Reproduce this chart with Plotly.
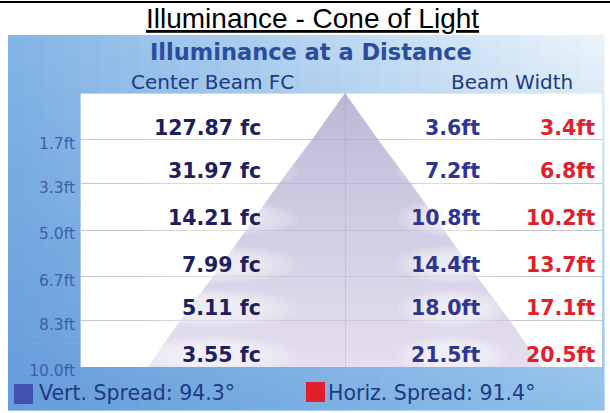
import numpy as np
import plotly.graph_objects as go

# ---------------- data ----------------
distances = [1.7, 3.3, 5.0, 6.7, 8.3, 10.0]
distance_labels = ["1.7ft", "3.3ft", "5.0ft", "6.7ft", "8.3ft", "10.0ft"]
center_beam_fc = [127.87, 31.97, 14.21, 7.99, 5.11, 3.55]
vert_width_ft = [3.6, 7.2, 10.8, 14.4, 18.0, 21.5]
horiz_width_ft = [3.4, 6.8, 10.2, 13.7, 17.1, 20.5]
vert_spread_deg = 94.3
horiz_spread_deg = 91.4

# ---------------- geometry ----------------
W, H = 610, 413
L, R, T, B = 80, 8, 93, 46
PW, PH = W - L - R, H - T - B
XR = [-265 / 18.33, 257 / 18.33]
PX_PER_FT_X = PW / (XR[1] - XR[0])
PX_PER_FT_Y = PH / 10.0


def px(x):
    return (x - L) / PW


def py(y):
    return (H - B - y) / PH


# ---------------- background panel (gradient cells) ----------------
TL = np.array([130, 180, 230])
TR = np.array([236, 244, 251])
BL = np.array([100, 155, 217])
BR = np.array([143, 192, 234])
X0, X1, Y0, Y1 = 8, 604, 35, 410


def bg_color(x, y):
    u = (x - X0) / (X1 - X0)
    v = (y - Y0) / (Y1 - Y0)
    c = (1 - u) * (1 - v) * TL + u * (1 - v) * TR + (1 - u) * v * BL + u * v * BR
    return "rgb(%d,%d,%d)" % tuple(int(round(t)) for t in c)


xedges = list(np.linspace(X0, L, 5)) + list(np.linspace(L, W - R, 27)[1:]) + [X1]
yedges = list(np.linspace(Y0, T, 11)) + list(np.linspace(T, H - B, 47)[1:]) + list(np.linspace(H - B, Y1, 8)[1:])

shapes = []
for i in range(len(xedges) - 1):
    for j in range(len(yedges) - 1):
        xa, xb = xedges[i], xedges[i + 1]
        ya, yb = yedges[j], yedges[j + 1]
        if xa >= L - 0.01 and xb <= W - R + 0.01 and ya >= T - 0.01 and yb <= H - B + 0.01:
            continue
        shapes.append(dict(type="rect", xref="paper", yref="paper", layer="below",
                           x0=px(xa), x1=px(xb + 0.6), y0=py(yb + 0.6), y1=py(ya),
                           fillcolor=bg_color((xa + xb) / 2, (ya + yb) / 2),
                           line=dict(width=0)))

# top frame line
shapes.append(dict(type="line", xref="paper", yref="paper", layer="above",
                   x0=px(0), x1=px(W), y0=py(2), y1=py(2), line=dict(color="black", width=2)))
# legend swatches
shapes.append(dict(type="rect", xref="paper", yref="paper", layer="above",
                   x0=px(14), x1=px(33), y0=py(404), y1=py(384),
                   fillcolor="#4250b0", line=dict(width=0)))
shapes.append(dict(type="rect", xref="paper", yref="paper", layer="above",
                   x0=px(306), x1=px(325), y0=py(402), y1=py(382),
                   fillcolor="#e3202a", line=dict(width=0)))

fig = go.Figure()

# ---------------- cone of light ----------------
cone_x = [0] + [-w / 2 for w in vert_width_ft] + [w / 2 for w in vert_width_ft[::-1]] + [0]
cone_y = [0] + distances + distances[::-1] + [0]
fig.add_trace(go.Scatter(
    x=cone_x, y=cone_y, mode="lines", fill="toself",
    line=dict(width=0, color="rgba(0,0,0,0)"),
    fillgradient=dict(type="vertical", start=0, stop=10,
                      colorscale=[[0, "rgba(168,164,202,0.78)"],
                                  [1, "rgba(212,203,228,0.62)"]]),
    hoverinfo="skip", showlegend=False))

# ---------------- value texts ----------------
FC_RIGHT, VW_RIGHT, HW_RIGHT = -4.47, 7.47, 13.75
TEXT_SHIFT = 12


def glow(cx_ft, cy, rx_px, ry_px):
    # soft white halo behind a value label (layered translucent ellipses)
    for k in (1.0, 0.9, 0.8, 0.7, 0.6, 0.5):
        rx = rx_px * k / PX_PER_FT_X
        ry = ry_px * k / PX_PER_FT_Y
        shapes.append(dict(type="circle", xref="x", yref="y", layer="above",
                           x0=cx_ft - rx, x1=cx_ft + rx, y0=cy - ry, y1=cy + ry,
                           fillcolor="white", opacity=0.13, line=dict(width=0)))


VAL = dict(family="DejaVu Sans", size=20.5, weight="bold")
annotations = []
for d, fc, vw, hw in zip(distances, center_beam_fc, vert_width_ft, horiz_width_ft):
    cy = d - TEXT_SHIFT / PX_PER_FT_Y
    glow(FC_RIGHT - 50 / PX_PER_FT_X, cy, 85, 19)
    glow(VW_RIGHT - 30 / PX_PER_FT_X, cy, 55, 19)
    annotations.append(dict(x=FC_RIGHT, y=d, xref="x", yref="y", xanchor="right", yanchor="middle",
                            yshift=TEXT_SHIFT, showarrow=False, text=f"{fc:.2f} fc",
                            font=dict(VAL, color="#1c205e")))
    annotations.append(dict(x=VW_RIGHT, y=d, xref="x", yref="y", xanchor="right", yanchor="middle",
                            yshift=TEXT_SHIFT, showarrow=False, text=f"{vw:.1f}ft",
                            font=dict(VAL, color="#2e3592")))
    annotations.append(dict(x=HW_RIGHT, y=d, xref="x", yref="y", xanchor="right", yanchor="middle",
                            yshift=TEXT_SHIFT, showarrow=False, text=f"{hw:.1f}ft",
                            font=dict(VAL, color="#e2202b")))

# titles and headers
annotations.append(dict(x=px(312), y=py(18), xref="paper", yref="paper", showarrow=False,
                        xanchor="center", yanchor="middle", text="<u>Illuminance - Cone of Light</u>",
                        font=dict(family="Liberation Sans", size=28, color="black")))
annotations.append(dict(x=px(311), y=py(52), xref="paper", yref="paper", showarrow=False,
                        xanchor="center", yanchor="middle", text="Illuminance at a Distance",
                        font=dict(family="DejaVu Sans", size=22.5, color="#2a4d9c", weight="bold")))
annotations.append(dict(x=px(212), y=py(82), xref="paper", yref="paper", showarrow=False,
                        xanchor="center", yanchor="middle", text="Center Beam FC",
                        font=dict(family="DejaVu Sans", size=20, color="#1f3a80")))
annotations.append(dict(x=px(512), y=py(82), xref="paper", yref="paper", showarrow=False,
                        xanchor="center", yanchor="middle", text="Beam Width",
                        font=dict(family="DejaVu Sans", size=20, color="#1f3a80")))
# legend texts
annotations.append(dict(x=px(37), y=py(393), xref="paper", yref="paper", showarrow=False,
                        xanchor="left", yanchor="middle", text=f"Vert. Spread: {vert_spread_deg:.1f}°",
                        font=dict(family="DejaVu Sans", size=20.5, color="#1f3a80")))
annotations.append(dict(x=px(326), y=py(393), xref="paper", yref="paper", showarrow=False,
                        xanchor="left", yanchor="middle", text=f"Horiz. Spread: {horiz_spread_deg:.1f}°",
                        font=dict(family="DejaVu Sans", size=20.5, color="#1f3a80")))

fig.update_layout(
    width=W, height=H,
    margin=dict(l=L, r=R, t=T, b=B, pad=0, autoexpand=False),
    paper_bgcolor="white", plot_bgcolor="white",
    shapes=shapes, annotations=annotations, showlegend=False,
    xaxis=dict(range=XR, showgrid=False, showticklabels=False,
               zeroline=True, zerolinecolor="#c8c8c8", zerolinewidth=1, fixedrange=True,
               automargin=False),
    yaxis=dict(range=[10, 0], tickvals=distances, ticktext=distance_labels,
               showgrid=True, gridcolor="#c8c8c8", gridwidth=1, zeroline=False,
               ticks="", ticklabelstandoff=4, ticklabelshift=-4, automargin=False,
               tickfont=dict(family="DejaVu Sans", size=15.5, color="#3f5ea8"), fixedrange=True),
)

fig.write_html("out.html", config={"displayModeBar": False},
               post_script="document.body.style.margin='0';")
